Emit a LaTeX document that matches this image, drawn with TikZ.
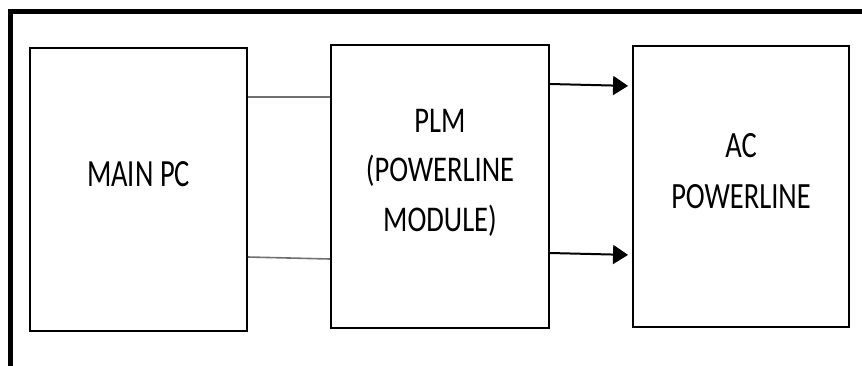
\documentclass[tikz,border=0pt]{standalone}
\usepackage{fontspec}
\setmainfont{Carlito}
\usetikzlibrary{arrows.meta}
\definecolor{wire}{RGB}{112,112,112}
\newcommand\boxlbl[2][1.27]{\scalebox{1}[#1]{\begin{tabular}{@{}c@{}}#2\end{tabular}}}
\begin{document}
\begin{tikzpicture}[x=1pt,y=-1pt,
  blockbox/.style={draw=black,line width=1.9pt,rectangle,inner sep=0pt},
  lbltext/.style={inner sep=0pt,font=\fontsize{28.5}{39}\selectfont,text=black},
  wireline/.style={draw=wire,line width=1.6pt},
  arrowline/.style={draw=black,line width=2pt,-{Triangle[length=15pt,width=19pt]},shorten >=4pt}]
\useasboundingbox (0,0) rectangle (862,365);
\clip (0,0) rectangle (862,365);
% outer frame (only top and left visible)
\draw[line width=5pt] (10,400) -- (10,11) -- (900,11);
% blocks
\node[blockbox,minimum width=217pt,minimum height=283pt] (main) at (138.5,189.5) {};
\node[blockbox,minimum width=218pt,minimum height=283pt] (plm) at (440,186.5) {};
\node[blockbox,minimum width=216pt,minimum height=281pt] (ac) at (741,186.5) {};
% labels
\node[lbltext] (mainlbl) at ([yshift=13.5pt]main.center) {\boxlbl[1.35]{MAIN PC}};
\node[lbltext] (plmlbl) at ([yshift=14.5pt]plm.center) {\boxlbl{PLM\\(POWERLINE\\MODULE)}};
\node[lbltext] (aclbl) at ([yshift=13.5pt]ac.center) {\boxlbl[1.3]{AC\\POWERLINE}};
% wires main -> plm
\draw[wireline] ([yshift=92.5pt]main.east) -- ([yshift=89.5pt]plm.west);
\draw[wireline] ([yshift=-67.5pt]main.east) -- ([yshift=-72.5pt]plm.west);
% arrows plm -> ac
\draw[arrowline] ([yshift=102.5pt]plm.east) -- ([yshift=100.5pt]ac.west);
\draw[arrowline] ([yshift=-66.5pt]plm.east) -- ([yshift=-68.5pt]ac.west);
\end{tikzpicture}
\end{document}
